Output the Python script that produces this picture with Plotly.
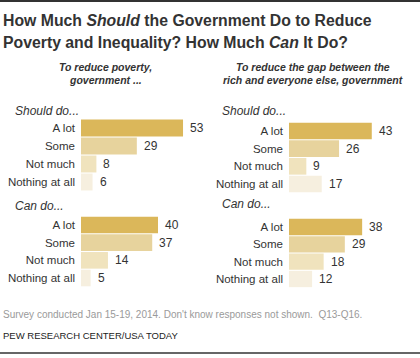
import plotly.graph_objects as go

W, H = 420, 358

categories = ["A lot", "Some", "Not much", "Nothing at all"]
poverty_should = [53, 29, 8, 6]
poverty_can = [40, 37, 14, 5]
gap_should = [43, 26, 9, 17]
gap_can = [38, 29, 18, 12]
colors = ["#DBB75A", "#E7D39D", "#F0E3BD", "#F6EFDF"]

FONT = "Liberation Sans"
TXT = "#333333"

def py(p):
    return 1 - p / H

def px(p):
    return p / W

PX_PER_UNIT = 1.925
XW = 125

panels = [
    (poverty_should, 81, 119, 191),
    (poverty_can, 81, 216, 287),
    (gap_should, 289, 122, 193),
    (gap_can, 289, 218, 288),
]

fig = go.Figure()
annotations = []
layout_axes = {}
for i, (vals, x0, top, bot) in enumerate(panels):
    n = "" if i == 0 else str(i + 1)
    fig.add_trace(go.Bar(
        x=vals, y=categories, orientation="h",
        marker=dict(color=colors, line=dict(width=0)),
        xaxis="x" + n, yaxis="y" + n, hoverinfo="skip", showlegend=False,
    ))
    layout_axes["xaxis" + n] = dict(
        domain=[px(x0), px(x0 + XW)], range=[0, XW / PX_PER_UNIT],
        visible=False, anchor="y" + n, fixedrange=True, automargin=False,
    )
    layout_axes["yaxis" + n] = dict(
        domain=[py(bot), py(top)], type="category",
        categoryorder="array", categoryarray=categories,
        autorange="reversed", showgrid=False, zeroline=False, showline=False,
        ticks="", ticklabelstandoff=5, anchor="x" + n, automargin=False,
        tickfont=dict(family=FONT, size=11.5, color=TXT), fixedrange=True,
    )
    for v, c in zip(vals, categories):
        annotations.append(dict(
            x=v, y=c, xref="x" + n, yref="y" + n, text=str(v),
            showarrow=False, xanchor="left", yanchor="middle", xshift=5,
            font=dict(family=FONT, size=12, color=TXT),
        ))

def txt(x, y, text, size, color=TXT, anchor="left", bold=False, italic=False):
    if bold:
        text = "<b>" + text + "</b>"
    if italic:
        text = "<i>" + text + "</i>"
    annotations.append(dict(
        x=px(x), y=py(y), xref="paper", yref="paper", text=text,
        showarrow=False, xanchor=anchor, yanchor="middle",
        font=dict(family=FONT, size=size, color=color),
    ))

txt(1, 20, "How Much <i>Should</i> the Government Do to Reduce", 15.8, bold=True)
txt(1, 43, "Poverty and Inequality? How Much <i>Can</i> It Do?", 15.8, bold=True)
txt(105, 67, "To reduce poverty,", 10.5, anchor="center", bold=True, italic=True)
txt(105, 80, "government ...", 10.5, anchor="center", bold=True, italic=True)
txt(313, 67, "To reduce the gap between the", 10.5, anchor="center", bold=True, italic=True)
txt(313, 80, "rich and everyone else, government", 10.5, anchor="center", bold=True, italic=True)
txt(13, 111, "Should do...", 12, italic=True)
txt(13, 206, "Can do...", 12, italic=True)
txt(220, 111, "Should do...", 12, italic=True)
txt(220, 204, "Can do...", 12, italic=True)
txt(1, 314, "Survey conducted Jan 15-19, 2014. Don't know responses not shown.  Q13-Q16.", 10, color="#9a9a9a")
txt(1, 335, "PEW RESEARCH CENTER/USA TODAY", 9.5, color="#222222")

shapes = [
    dict(type="line", xref="paper", yref="paper", x0=0, x1=1, y0=py(1), y1=py(1),
         line=dict(color="#333333", width=2)),
    dict(type="line", xref="paper", yref="paper", x0=0, x1=1, y0=py(353), y1=py(353),
         line=dict(color="#333333", width=1.5)),
]

fig.update_layout(
    width=W, height=H, autosize=False,
    margin=dict(l=0, r=0, t=0, b=0, autoexpand=False),
    paper_bgcolor="white", plot_bgcolor="white",
    bargap=0.06, annotations=annotations, shapes=shapes,
    font=dict(family=FONT, color=TXT),
    **layout_axes,
)

fig.write_html(
    "out.html",
    config=dict(displayModeBar=False),
    post_script="document.body.style.margin='0px';document.body.style.padding='0px';",
)
